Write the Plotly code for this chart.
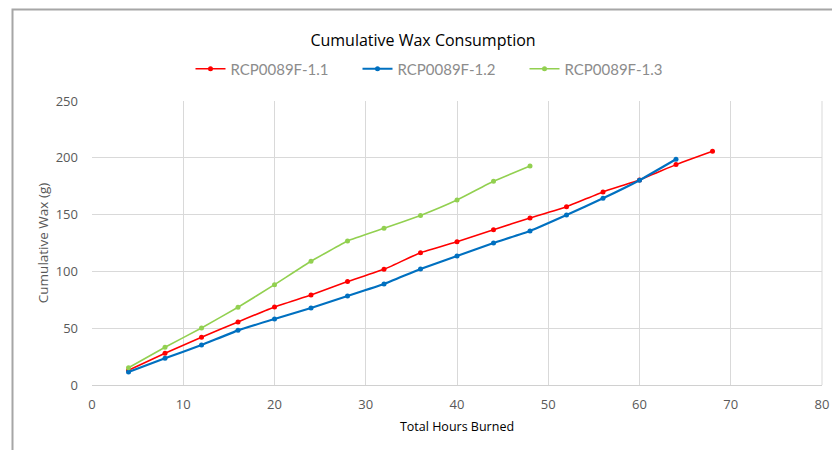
import plotly.graph_objects as go

hours_1 = [4, 8, 12, 16, 20, 24, 28, 32, 36, 40, 44, 48, 52, 56, 60, 64, 68]
wax_1 = [13, 28, 42, 55.5, 68.7, 79.2, 91, 101.8, 116.5, 126.2, 136.7, 147, 157, 170, 180.5, 194, 205.7]

hours_2 = [4, 8, 12, 16, 20, 24, 28, 32, 36, 40, 44, 48, 52, 56, 60, 64]
wax_2 = [11.4, 23.5, 35.2, 48.1, 58.1, 67.8, 78.3, 88.9, 102.1, 113.6, 125, 135.6, 149.6, 164.3, 180.2, 198.7]

hours_3 = [4, 8, 12, 16, 20, 24, 28, 32, 36, 40, 44, 48]
wax_3 = [15.2, 33.2, 50.2, 68.4, 88.3, 108.9, 126.8, 137.9, 149.3, 162.9, 179.3, 192.8]

names = ["RCP0089F-1.1", "RCP0089F-1.2", "RCP0089F-1.3"]
colors = ["#ff0000", "#0070c0", "#92d050"]
widths = [1.6, 2.2, 1.6]

fig = go.Figure()
for xs, ys, n, c, w in zip([hours_1, hours_2, hours_3], [wax_1, wax_2, wax_3], names, colors, widths):
    fig.add_trace(go.Scatter(
        x=xs, y=ys, name=n, mode="lines+markers",
        line=dict(color=c, width=w, shape="spline", smoothing=0.3),
        marker=dict(color=c, size=5, symbol="circle"),
    ))

W, H = 832, 450
L, T = 92, 101
R = W - 822
B = H - 385
pw, ph = W - L - R, H - T - B

fig.update_layout(
    width=W, height=H,
    margin=dict(l=L, r=R, t=T, b=B, autoexpand=False),
    paper_bgcolor="white", plot_bgcolor="white",
    font=dict(family="Open Sans", color="#595959"),
    title=dict(text="Cumulative Wax Consumption", x=423 / W, xanchor="center",
               y=1 - 40 / H, yanchor="middle",
               font=dict(size=16, color="#000000", family="Open Sans")),
    legend=dict(orientation="h", x=(441 - L) / pw, xanchor="center",
                y=1 + (T - 69) / ph, yanchor="middle",
                font=dict(size=15, color="#8c8c8c", family="Lato"),
                itemwidth=30, entrywidth=122, entrywidthmode="pixels",
                bgcolor="rgba(0,0,0,0)"),
    xaxis=dict(range=[0, 80], dtick=10, showgrid=True, gridcolor="#d9d9d9", gridwidth=1,
               zeroline=False, showline=True, linecolor="#d0d0d0", linewidth=1, mirror=False,
               ticks="", tickfont=dict(size=13, color="#595959"), automargin=False,
               ticklabelstandoff=7, ticklabeloverflow="allow",
               title=dict(text="Total Hours Burned", font=dict(size=12.5, color="#000000"), standoff=10)),
    yaxis=dict(range=[0, 250], dtick=50, showgrid=True, gridcolor="#d9d9d9", gridwidth=1,
               zeroline=False, showline=False, ticks="", ticklabelstandoff=13, automargin=False,
               tickfont=dict(size=13, color="#595959"),
               title=dict(text="Cumulative Wax (g)", font=dict(size=13.5, color="#595959"), standoff=3)),
    shapes=[
        dict(type="rect", xref="paper", yref="paper",
             x0=(12.5 - L) / pw, x1=1.5, y0=-1, y1=1 + (T - 9.5) / ph,
             line=dict(color="#a6a6a6", width=2), layer="below"),
        dict(type="line", xref="paper", yref="paper", x0=1, x1=1, y0=0, y1=1,
             line=dict(color="#d9d9d9", width=1)),
    ],
)

fig.write_html(
    "out.html",
    config={"displayModeBar": False},
    post_script="document.body.style.margin='0';document.body.style.overflow='hidden';",
)
